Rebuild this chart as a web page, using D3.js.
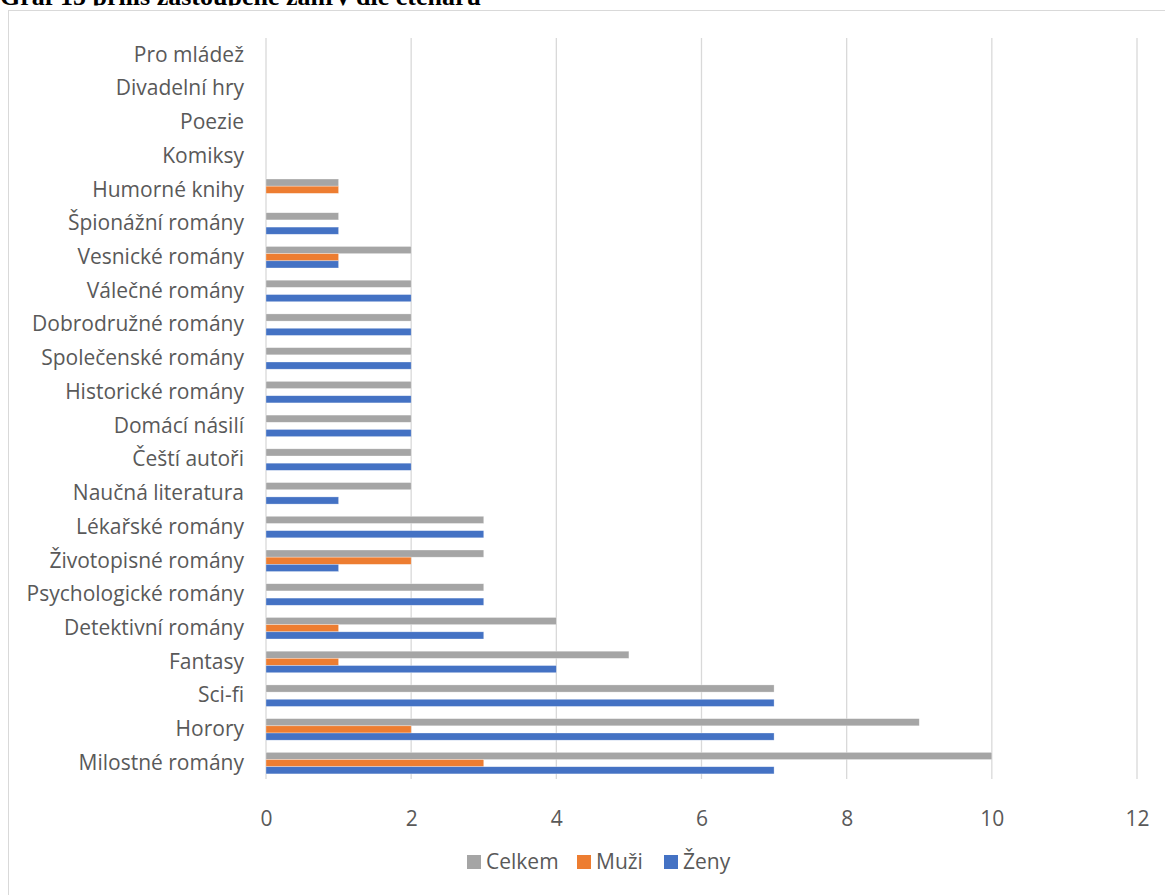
<!DOCTYPE html>
<html><head><meta charset="utf-8">
<script src="https://cdn.jsdelivr.net/npm/d3@7"></script>
<style>html,body{margin:0;padding:0;background:#fff;overflow:hidden}</style>
</head><body>
<svg id="c" width="1165" height="895"></svg>
<script>
const categories = ["Milostné romány","Horory","Sci-fi","Fantasy","Detektivní romány","Psychologické romány","Životopisné romány","Lékařské romány","Naučná literatura","Čeští autoři","Domácí násilí","Historické romány","Společenské romány","Dobrodružné romány","Válečné romány","Vesnické romány","Špionážní romány","Humorné knihy","Komiksy","Poezie","Divadelní hry","Pro mládež"];
const celkem = [10,9,7,5,4,3,3,3,2,2,2,2,2,2,2,2,1,1,0,0,0,0];
const muzi   = [3,2,0,1,1,0,2,0,0,0,0,0,0,0,0,1,0,1,0,0,0,0];
const zeny   = [7,7,7,4,3,3,1,3,1,2,2,2,2,2,2,1,1,0,0,0,0,0];
const seriesNames = ["Celkem","Muži","Ženy"];
const seriesColors = ["#A5A5A5","#ED7D31","#4472C4"];
const xTicks = [0,2,4,6,8,10,12];
const title = "Graf 15 příliš zastoupené žánry dle čtenářů";

const svg = d3.select("#c");
const font = "'Open Sans', sans-serif";
const fs = 21;

svg.append("defs").append("clipPath").attr("id","tclip")
  .append("rect").attr("x",0).attr("y",-20).attr("width",1165).attr("height",25.5);
svg.append("text").attr("x",0).attr("y",4.5).attr("font-family","'Liberation Serif', serif")
  .attr("clip-path","url(#tclip)")
  .attr("font-weight","bold").attr("font-size",26).attr("fill","#000").text(title);

svg.append("rect").attr("x",8.5).attr("y",10.5).attr("width",1170).attr("height",900)
  .attr("fill","#fff").attr("stroke","#D9D9D9");

const x = d3.scaleLinear().domain([0,12]).range([266,1137]);
const y = d3.scaleBand().domain(categories.slice().reverse()).range([38,780]);
const inner = d3.scaleBand().domain(seriesNames).range([0,y.bandwidth()]).paddingInner(0).paddingOuter(0.85);

const g = svg.append("g");
g.selectAll("line.grid").data(xTicks).join("line")
  .attr("x1",d=>x(d)).attr("x2",d=>x(d)).attr("y1",38).attr("y2",779)
  .attr("stroke","#D9D9D9").attr("stroke-width",1.3);

const data = [celkem, muzi, zeny];
seriesNames.forEach((s,si)=>{
  g.selectAll(null).data(categories.map((c,i)=>({c,v:data[si][i]})).filter(d=>d.v>0)).join("rect")
   .attr("x",x(0)).attr("y",d=>y(d.c)+inner(s)).attr("width",d=>x(d.v)-x(0))
   .attr("height",inner.bandwidth()).attr("fill",seriesColors[si])
   .attr("stroke","#fff").attr("stroke-opacity",0.5).attr("stroke-width",0.6);
});

const yAxis = d3.axisLeft(y).tickSize(0).tickPadding(22);
const ya = svg.append("g").attr("transform",`translate(${x(0)},0)`).call(yAxis);
ya.select(".domain").remove();
ya.selectAll("text").attr("font-family",font).attr("font-size",fs).attr("fill","#595959");

const xAxis = d3.axisBottom(x).tickValues(xTicks).tickSize(0).tickPadding(21);
const xa = svg.append("g").attr("transform",`translate(0,790)`).call(xAxis);
xa.select(".domain").remove();
xa.selectAll("text").attr("font-family",font).attr("font-size",fs).attr("fill","#595959");

const legendX = [467,577,664];
const lg = svg.append("g");
seriesNames.forEach((s,i)=>{
  lg.append("rect").attr("x",legendX[i]).attr("y",855).attr("width",14).attr("height",14).attr("fill",seriesColors[i]);
  lg.append("text").attr("x",legendX[i]+19).attr("y",862).attr("dy","0.35em")
    .attr("font-family",font).attr("font-size",fs).attr("fill","#595959").text(s);
});
</script>
</body></html>
